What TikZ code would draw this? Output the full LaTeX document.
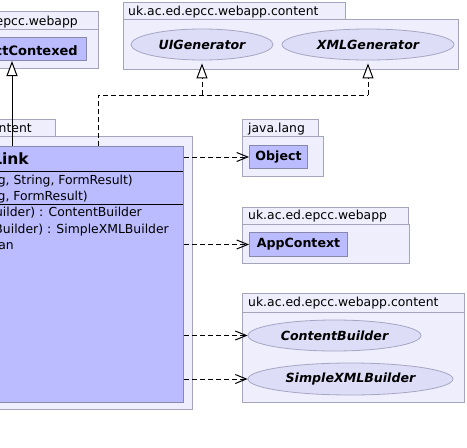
\documentclass[tikz,border=0pt]{standalone}
\usepackage{fontspec}
\setmainfont{DejaVu Sans}
\usetikzlibrary{arrows.meta,shapes.geometric}
\definecolor{pkgfill}{HTML}{EEEEFC}
\definecolor{pkgline}{HTML}{A4A4BA}
\definecolor{clsfill}{HTML}{BBBBFF}
\definecolor{clsline}{HTML}{8888AC}
\definecolor{iffill}{HTML}{DDDDF7}
\definecolor{ifline}{HTML}{A6A6C4}
\tikzset{
  pkg/.style={draw=pkgline, fill=pkgfill, line width=1pt, anchor=north west, inner sep=0pt},
  cls/.style={draw=clsline, fill=clsfill, line width=1pt, anchor=north west, inner sep=0pt,
    font=\fontsize{12.6}{14}\selectfont\bfseries},
  iface/.style={ellipse, draw=ifline, fill=iffill, line width=0.8pt, inner sep=0pt,
    font=\fontsize{12.6}{14}\selectfont\bfseries\itshape},
  lbl/.style={inner sep=0pt, font=\fontsize{12.4}{14}\selectfont},
  gen/.style={-{Triangle[open, length=15pt, width=11pt, fill=white]}, line width=1pt},
  dep/.style={-{Straight Barb[length=11pt, width=9pt]}, dash pattern=on 5pt off 3pt, line width=1pt}
}
\begin{document}
\begin{tikzpicture}[x=1pt, y=-1pt]
    \useasboundingbox (0,0) rectangle (467,448);
    \clip (0,0) rectangle (467,448);
    \node[pkg, minimum width=103pt, minimum height=18pt] (tabA) at (-5,11) {};
    \node[lbl, anchor=base east] (tabAtext) at (78,25) {epcc.webapp};
    \node[pkg, minimum width=103pt, minimum height=39pt] (pkgA) at (-5,29) {};
    \node[cls, minimum width=91pt, minimum height=23pt] (ctx) at (-5,37) {};
    \node[lbl, anchor=base east, font=\fontsize{13}{15}\selectfont\bfseries] (ctxname) at (78,55) {ctContexed};
    \node[pkg, minimum width=222pt, minimum height=17pt] (tabB) at (123,2) {};
    \node[lbl, anchor=base west] (tabBtext) at (128,15) {uk.ac.ed.epcc.webapp.content};
    \node[pkg, minimum width=335pt, minimum height=50pt] (pkgB) at (123,19) {};
    \node[iface, minimum width=142pt, minimum height=31pt] (uigen) at (202,44.5) {UIGenerator};
    \node[iface, minimum width=172pt, minimum height=31pt] (xmlgen) at (368,44.5) {XMLGenerator};
    \node[pkg, minimum width=60pt, minimum height=17pt] (tabC) at (-5,119) {};
    \node[lbl, anchor=base east] (tabCtext) at (32,132) {ntent};
    \node[pkg, minimum width=197pt, minimum height=273pt] (pkgC) at (-5,136) {};
    \node[cls, minimum width=188pt, minimum height=256pt] (link) at (-5,146) {};
    \draw[line width=0.8pt] (-5,171) -- (183,171);
    \draw[line width=0.8pt] (-5,204) -- (183,204);
    \node[lbl, anchor=base east, font=\fontsize{15.5}{18}\selectfont\bfseries] (linkname) at (29,164) {Link};
    \foreach \x/\y/\t [count=\i] in {133/184/{g, String, FormResult)}, 88/200/{g, FormResult)},
        142/216.7/{uilder) : ContentBuilder}, 169/233/{LBuilder) : SimpleXMLBuilder}, 14/249/an}
        \node[lbl, anchor=base east] (m\i) at (\x,\y) {\t};
    \node[pkg, minimum width=76pt, minimum height=17pt] (tabD) at (242,119) {};
    \node[lbl, anchor=base west] (tabDtext) at (248,132.5) {java.lang};
    \node[pkg, minimum width=81pt, minimum height=40pt] (pkgD) at (242,136) {};
    \node[cls, minimum width=58pt, minimum height=23pt] (obj) at (249,145) {Object};
    \node[pkg, minimum width=166pt, minimum height=17pt] (tabE) at (242,207) {};
    \node[lbl, anchor=base west] (tabEtext) at (248,219.5) {uk.ac.ed.epcc.webapp};
    \node[pkg, minimum width=167pt, minimum height=39pt] (pkgE) at (242,224) {};
    \node[cls, minimum width=98pt, minimum height=24pt] (appctx) at (249,232) {AppContext};
    \node[pkg, minimum width=222pt, minimum height=19pt] (tabF) at (242,293) {};
    \node[lbl, anchor=base west] (tabFtext) at (248,306) {uk.ac.ed.epcc.webapp.content};
    \node[pkg, minimum width=222pt, minimum height=90pt] (pkgF) at (242,312) {};
    \node[iface, minimum width=173pt, minimum height=31pt] (cb) at (334.5,335.5) {ContentBuilder};
    \node[iface, minimum width=205pt, minimum height=32pt] (sxb) at (350.5,379) {SimpleXMLBuilder};
    \coordinate (g0) at (12,146);
    \draw[gen] (g0) -- (g0 |- ctx.south);
    \coordinate (r0) at (98,146);
    \coordinate (r1) at (98,95);
    \draw[dash pattern=on 5pt off 3pt, line width=1pt] (r0) -- (r1) -- (r1 -| xmlgen.south);
    \foreach \t in {uigen, xmlgen}
        \draw[gen, dash pattern=on 5pt off 3pt, shorten >=3pt] (r1 -| \t.south) -- (\t.south);
    \foreach \t in {obj, appctx, cb, sxb}
        \draw[dep] (\t.west -| link.east) -- (\t.west);
\end{tikzpicture}
\end{document}
